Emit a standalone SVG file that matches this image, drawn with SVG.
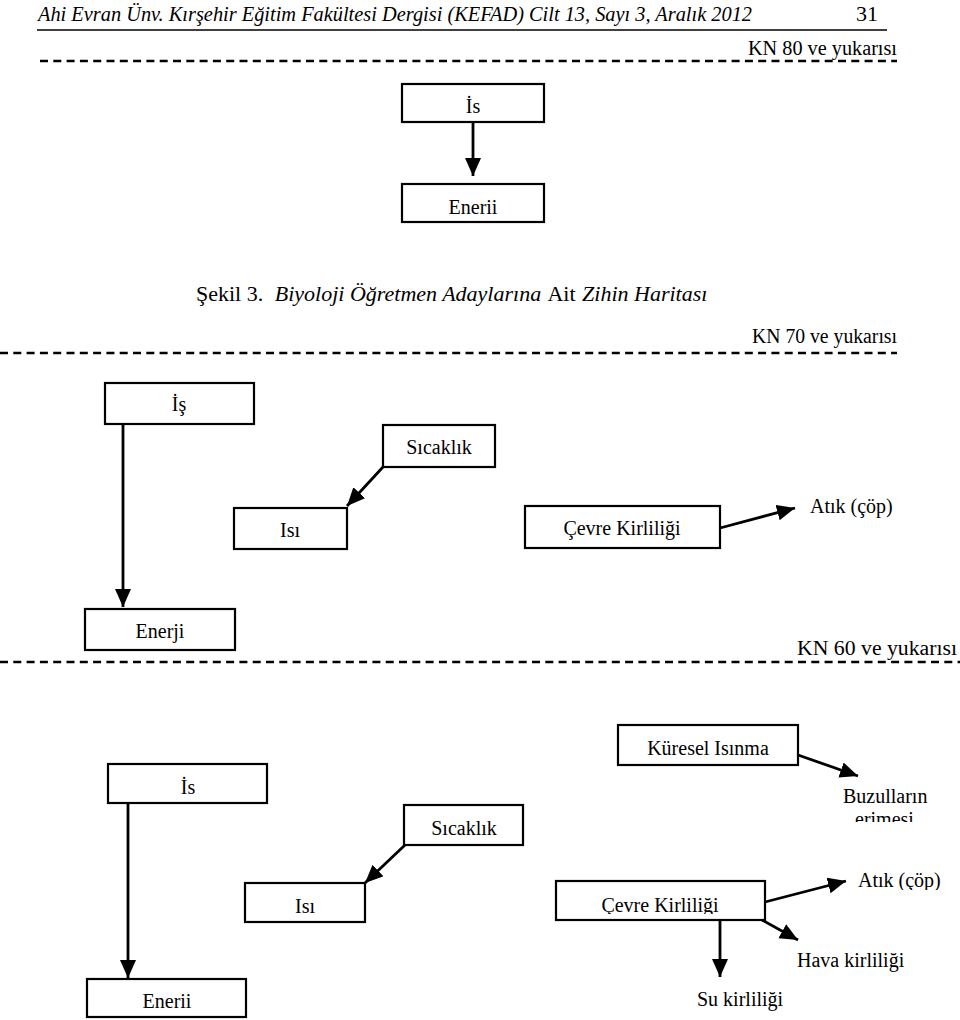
<svg xmlns="http://www.w3.org/2000/svg" width="960" height="1020" viewBox="0 0 960 1020">
<style>
  .bg{fill:#fff}
  .box{fill:#fff;stroke:#000;stroke-width:2.2}
  .t{font-family:"Liberation Serif","Times New Roman",serif;font-size:20px;fill:#000}
  .hd{font-size:22px}
  .cap{font-size:22px}
  .c{text-anchor:middle}
  .it{font-style:italic}
  .dash{stroke:#000;stroke-width:2.5;stroke-dasharray:8 5.3;fill:none}
  .rule{stroke:#000;stroke-width:1.6;fill:none}
  .arr{stroke:#000;stroke-width:2.8;fill:none;marker-end:url(#ah)}
</style>
<defs>
  <marker id="ah" markerUnits="userSpaceOnUse" markerWidth="20" markerHeight="18" refX="18" refY="8" orient="auto" viewBox="0 0 20 18">
    <path d="M0,0 L18,8 L0,16 z" fill="#000"/>
  </marker>
  <clipPath id="clipErimesi"><rect x="840" y="805" width="100" height="17"/></clipPath>
  <clipPath id="clipKuresel"><rect x="620" y="727" width="176" height="30"/></clipPath>
  <clipPath id="clipCevre2"><rect x="558" y="883" width="205" height="31"/></clipPath>
  <clipPath id="clipAtik2"><rect x="850" y="860" width="110" height="30"/></clipPath>
</defs>
<rect class="bg" x="0" y="0" width="960" height="1020"/>

<g id="header">
  <text class="t it hd" x="38" y="21" textLength="714" lengthAdjust="spacingAndGlyphs">Ahi Evran Ünv. Kırşehir Eğitim Fakültesi Dergisi (KEFAD) Cilt 13, Sayı 3, Aralık 2012</text>
  <text class="t hd" x="856" y="21">31</text>
  <line class="rule" x1="37" y1="30" x2="887" y2="30"/>
</g>

<g id="level80">
  <line class="dash" x1="40" y1="61" x2="897" y2="61"/>
  <text class="t" x="748" y="55" textLength="149" lengthAdjust="spacingAndGlyphs">KN 80 ve yukarısı</text>
</g>

<g id="n80-is"><rect class="box" x="402" y="84" width="142" height="38"/><text class="t c" x="473" y="113">İs</text></g>
<g id="n80-enerji"><rect class="box" x="402" y="184" width="142" height="38"/><text class="t c" x="473" y="214">Enerii</text></g>

<g id="caption">
  <text class="t cap" x="196" y="301">Şekil 3. <tspan class="it" dx="6">Biyoloji Öğretmen Adaylarına</tspan> <tspan dx="2">Ait</tspan> <tspan class="it" dx="1">Zihin Haritası</tspan></text>
</g>

<g id="level70">
  <line class="dash" x1="0" y1="353" x2="897" y2="353"/>
  <text class="t" x="752" y="343" textLength="145" lengthAdjust="spacingAndGlyphs">KN 70 ve yukarısı</text>
</g>

<g id="n70-is"><rect class="box" x="105" y="383" width="149" height="41"/><text class="t c" x="179" y="411">İş</text></g>
<g id="n70-sicaklik"><rect class="box" x="383" y="425" width="112" height="42"/><text class="t c" x="439" y="454">Sıcaklık</text></g>
<g id="n70-isi"><rect class="box" x="234" y="508" width="113" height="41"/><text class="t c" x="290" y="537">Isı</text></g>
<g id="n70-cevre"><rect class="box" x="525" y="506" width="195" height="42"/><text class="t c" x="622" y="535">Çevre Kirliliği</text></g>
<g id="n70-atik"><text class="t" x="810" y="513">Atık (çöp)</text></g>
<g id="n70-enerji"><rect class="box" x="85" y="609" width="150" height="41"/><text class="t c" x="160" y="638">Enerji</text></g>

<g id="level60">
  <line class="dash" x1="0" y1="662" x2="960" y2="662"/>
  <text class="t" x="797" y="655" textLength="160" lengthAdjust="spacingAndGlyphs">KN 60 ve yukarısı</text>
</g>

<g id="n60-kuresel"><rect class="box" x="618" y="725" width="180" height="40"/><text class="t c" x="708" y="755" clip-path="url(#clipKuresel)">Küresel Isınma</text></g>
<g id="n60-buzul"><text class="t" x="843" y="803">Buzulların</text><text class="t" x="855" y="826" clip-path="url(#clipErimesi)">erimesi</text></g>
<g id="n60-is"><rect class="box" x="108" y="764" width="159" height="39"/><text class="t c" x="188" y="794">İs</text></g>
<g id="n60-sicaklik"><rect class="box" x="404" y="805" width="119" height="40"/><text class="t c" x="464" y="835">Sıcaklık</text></g>
<g id="n60-isi"><rect class="box" x="245" y="883" width="120" height="39"/><text class="t c" x="305" y="913">Isı</text></g>
<g id="n60-cevre"><rect class="box" x="556" y="881" width="209" height="39"/><text class="t c" x="660" y="912" clip-path="url(#clipCevre2)">Çevre Kirliliği</text></g>
<g id="n60-atik"><text class="t" x="858" y="887" clip-path="url(#clipAtik2)">Atık (çöp)</text></g>
<g id="n60-hava"><text class="t" x="797" y="967">Hava kirliliği</text></g>
<g id="n60-su"><text class="t" x="697" y="1006">Su kirliliği</text></g>
<g id="n60-enerji"><rect class="box" x="87" y="979" width="159" height="38"/><text class="t c" x="167" y="1008">Enerii</text></g>

<g id="connectors">
  <line class="arr" x1="473" y1="122" x2="473" y2="176"/>
  <line class="arr" x1="123" y1="424" x2="123" y2="607"/>
  <line class="arr" x1="383" y1="467" x2="347" y2="506"/>
  <line class="arr" x1="720" y1="528" x2="795" y2="508"/>
  <line class="arr" x1="798" y1="755" x2="858" y2="776"/>
  <line class="arr" x1="128" y1="803" x2="128" y2="978"/>
  <line class="arr" x1="405" y1="845" x2="365" y2="883"/>
  <line class="arr" x1="765" y1="902" x2="846" y2="881"/>
  <line class="arr" x1="762" y1="920" x2="798" y2="940"/>
  <line class="arr" x1="720" y1="920" x2="720" y2="977"/>
</g>
</svg>
